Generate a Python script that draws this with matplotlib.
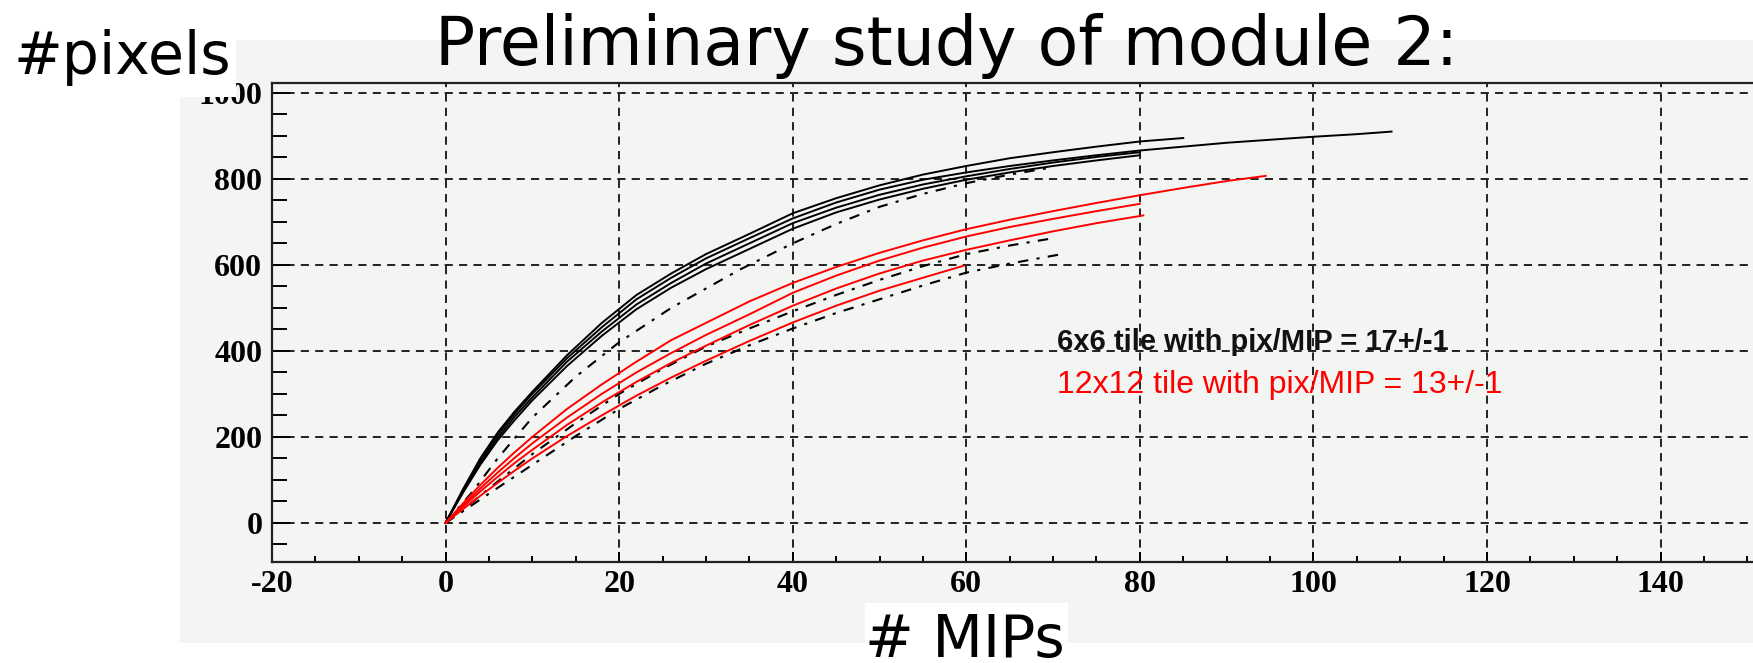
import matplotlib
matplotlib.use("Agg")
import matplotlib.pyplot as plt
from matplotlib.patches import Rectangle
from matplotlib.ticker import MultipleLocator

plt.rcParams["axes.unicode_minus"] = False

# ---------------- Data (pixels fired vs. injected MIPs) ----------------
# 6x6 tiles, solid curves
x_s1 = [0, 2, 4, 6, 8, 10, 14, 18, 22, 26, 30, 35, 40, 45, 50, 55, 60, 65, 70, 75, 80, 85]
y_s1 = [0, 78, 150, 210, 260, 305, 390, 465, 530, 580, 625, 672, 720, 755, 785, 810, 830, 848, 862, 875, 887, 895]

x_s2 = [0, 2, 4, 6, 8, 10, 14, 18, 22, 26, 30, 35, 40, 45, 50, 55, 60, 65, 70, 75, 80, 85, 90, 95, 100, 105, 109]
y_s2 = [0, 75, 145, 205, 255, 300, 383, 455, 520, 570, 615, 662, 708, 745, 775, 798, 815, 830, 843, 855, 866, 875, 884, 891, 898, 904, 910]

x_s3 = [0, 2, 4, 6, 8, 10, 14, 18, 22, 26, 30, 35, 40, 45, 50, 55, 60, 65, 70, 75, 80]
y_s3 = [0, 73, 140, 198, 248, 292, 375, 445, 508, 558, 603, 650, 697, 733, 763, 787, 806, 823, 838, 851, 862]

x_s4 = [0, 2, 4, 6, 8, 10, 14, 18, 22, 26, 30, 35, 40, 45, 50, 55, 60, 65, 70, 75, 80]
y_s4 = [0, 70, 135, 192, 240, 285, 365, 435, 497, 547, 590, 637, 684, 722, 752, 777, 798, 815, 830, 843, 855]

# 6x6 tiles, dashed curves
x_d1 = [0, 3, 6, 10, 15, 20, 26, 30, 34, 40, 45, 50, 55, 60, 65, 70]
y_d1 = [0, 70, 150, 245, 340, 420, 500, 545, 590, 650, 695, 735, 765, 790, 810, 827]

x_d2 = [0, 2, 5, 10, 15, 20, 25, 30, 35, 40, 45, 50, 55, 60, 65, 70]
y_d2 = [0, 30, 80, 160, 232, 300, 358, 410, 452, 492, 530, 565, 597, 625, 645, 662]

x_d3 = [0, 2, 5, 10, 15, 20, 25, 30, 35, 40, 45, 50, 55, 60, 65, 71]
y_d3 = [0, 27, 68, 135, 202, 265, 320, 370, 413, 452, 488, 520, 552, 582, 603, 625]

# 12x12 tiles
x_r1 = [0, 2, 4, 6, 8, 10, 14, 18, 22, 26, 30, 35, 40, 45, 50, 55, 60, 65, 70, 75, 80, 85, 90, 94.5]
y_r1 = [0, 45, 88, 128, 165, 200, 265, 322, 375, 425, 465, 515, 558, 595, 628, 657, 683, 705, 725, 744, 762, 779, 795, 807]

x_r2 = [0, 2, 4, 6, 8, 10, 14, 18, 22, 26, 30, 35, 40, 45, 50, 55, 60, 65, 70, 75, 80]
y_r2 = [0, 40, 80, 117, 152, 185, 245, 300, 350, 395, 437, 485, 535, 575, 610, 640, 666, 688, 707, 725, 742]

x_r3 = [0, 2, 4, 6, 8, 10, 14, 18, 22, 26, 30, 35, 40, 45, 50, 55, 60, 65, 70, 75, 80.4]
y_r3 = [0, 37, 73, 107, 140, 170, 228, 280, 328, 372, 412, 460, 505, 545, 580, 610, 635, 657, 678, 697, 715]

x_r4 = [0, 2, 4, 6, 8, 10, 14, 18, 22, 26, 30, 35, 40, 45, 50, 55, 59.7]
y_r4 = [0, 32, 63, 93, 122, 150, 202, 250, 296, 338, 377, 423, 466, 505, 540, 570, 598]

label_6x6 = "6x6 tile with pix/MIP = 17+/-1"
label_12x12 = "12x12 tile with pix/MIP = 13+/-1"

# ---------------- Figure ----------------
W, H = 1753, 663
fig = plt.figure(figsize=(W / 100, H / 100), dpi=100)
bg = "#f3f5f2"

# light panel behind the plot
fig.patches.append(Rectangle((180 / W, 1 - 643 / H), (W - 180) / W, (643 - 40) / H,
                             transform=fig.transFigure, facecolor=bg, edgecolor="none", zorder=-5))

ax = fig.add_axes([272 / W, 1 - 562 / H, 1 - 272 / W, (562 - 83) / H])
ax.set_zorder(1)
ax.set_facecolor(bg)

solid = dict(color="black", lw=1.4, zorder=3)
dashed = dict(color="black", lw=1.5, linestyle=(0, (5, 4, 1.5, 4)), zorder=3)
red = dict(color="#ff0000", lw=1.4, zorder=4)

for xs, ys in [(x_s1, y_s1), (x_s2, y_s2), (x_s3, y_s3), (x_s4, y_s4)]:
    ax.plot(xs, ys, **solid)
for xs, ys in [(x_d1, y_d1), (x_d2, y_d2), (x_d3, y_d3)]:
    ax.plot(xs, ys, **dashed)
for xs, ys in [(x_r1, y_r1), (x_r2, y_r2), (x_r3, y_r3), (x_r4, y_r4)]:
    ax.plot(xs, ys, **red)

ax.set_xlim(-20, 150.65)
ax.set_ylim(-91, 1023)
ax.xaxis.set_major_locator(MultipleLocator(20))
ax.xaxis.set_minor_locator(MultipleLocator(5))
ax.yaxis.set_major_locator(MultipleLocator(200))
ax.yaxis.set_minor_locator(MultipleLocator(50))

ax.grid(True, which="major", color="#222222", lw=1.4, linestyle=(0, (4.2, 3.2)), zorder=1)
ax.set_axisbelow(True)

for side in ["left", "bottom", "top"]:
    ax.spines[side].set_linewidth(1.6)
    ax.spines[side].set_color("#222222")
ax.spines["right"].set_visible(False)

ax.tick_params(axis="y", which="major", direction="in", length=13, width=1.4, pad=7)
ax.tick_params(axis="y", which="minor", direction="in", length=11, width=1.4)
ax.tick_params(axis="x", which="major", direction="in", length=7, width=1.4, pad=6)
ax.tick_params(axis="x", which="minor", direction="in", length=4, width=1.4)
ax.tick_params(axis="both", which="major", labelsize=23, labelfontfamily="Liberation Serif")
ax.set_xticks(ax.get_xticks())
ax.set_yticks(ax.get_yticks())
ax.set_xticklabels([f"{v:g}" for v in ax.get_xticks()], fontweight="bold")
ax.set_yticklabels([f"{v:g}" for v in ax.get_yticks()], fontweight="bold")
ax.set_xlim(-20, 150.65)
ax.set_ylim(-91, 1023)

ax.text(70.5, 402, label_6x6, fontsize=21, fontweight="bold", family="Liberation Sans",
        color="#111111", va="baseline", ha="left", zorder=5)
ax.text(70.5, 302, label_12x12, fontsize=23, family="Liberation Sans",
        color="#ff0000", va="baseline", ha="left", zorder=5)

# ---------------- Titles ----------------
fig.text(435 / W, 1 - 65 / H, "Preliminary study of module 2:", fontsize=48,
         family="DejaVu Sans", ha="left", va="baseline")

fig.patches.append(Rectangle((0, 1 - 97 / H), 236 / W, 97 / H, transform=fig.transFigure,
                             facecolor="white", edgecolor="none", zorder=5))
fig.text(14 / W, 1 - 74 / H, "#pixels", fontsize=42, family="DejaVu Sans",
         ha="left", va="baseline", zorder=6)

fig.patches.append(Rectangle((865 / W, 0), (1068 - 865) / W, (663 - 603) / H,
                             transform=fig.transFigure, facecolor="white", edgecolor="none", zorder=5))
fig.text(965 / W, 1 - 657 / H, "# MIPs", fontsize=42, family="DejaVu Sans",
         ha="center", va="baseline", zorder=6)

fig.savefig("out.png", dpi=100)
